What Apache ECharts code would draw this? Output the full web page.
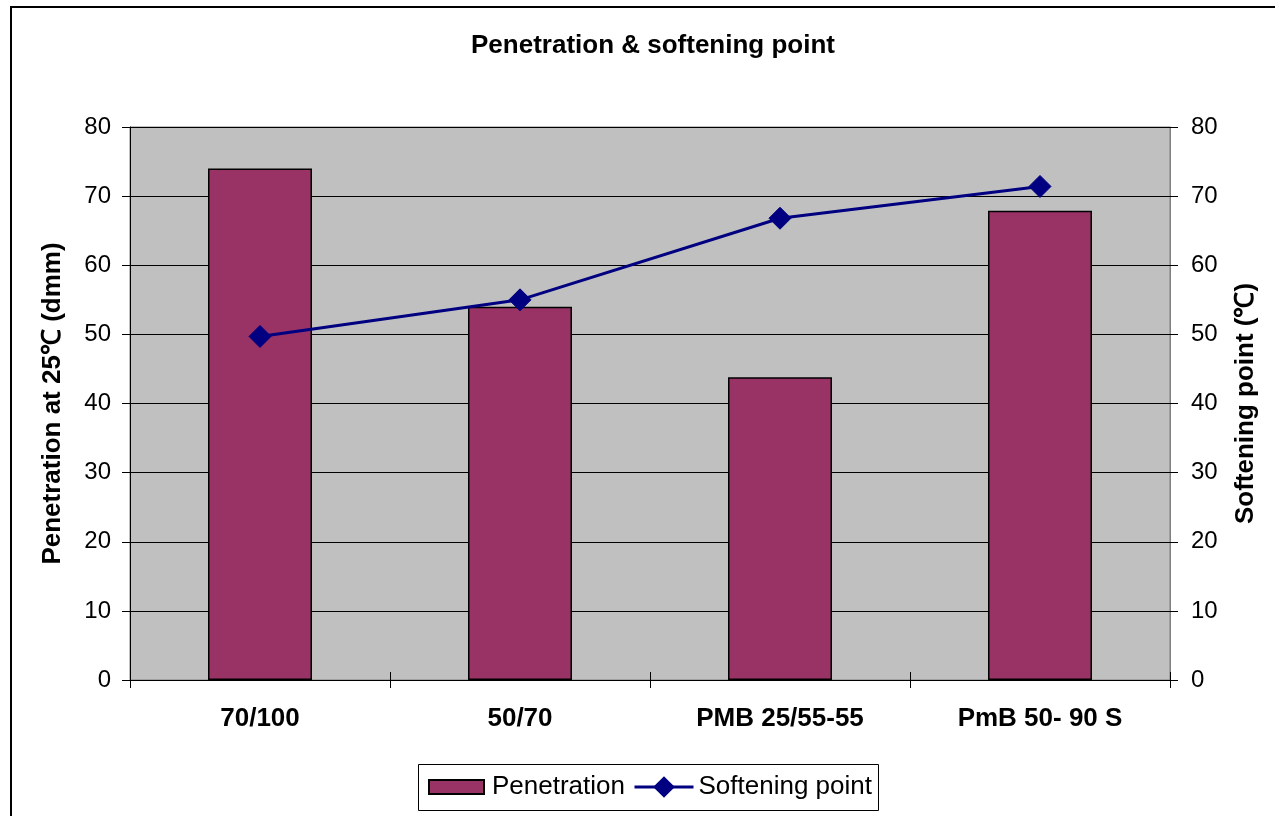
<!DOCTYPE html>
<html>
<head>
<meta charset="utf-8">
<script src="https://cdn.jsdelivr.net/npm/echarts@6/dist/echarts.min.js"></script>
<style>
html,body{margin:0;padding:0;background:#fff;}
#chart{width:1275px;height:816px;}
</style>
</head>
<body>
<div id="chart"></div>
<script>
const categories = ['70/100', '50/70', 'PMB 25/55-55', 'PmB 50- 90 S'];
const penetration = [74, 54, 43.8, 67.9];
const softeningPoint = [49.7, 55.0, 66.8, 71.4];
const yTicks = [0, 10, 20, 30, 40, 50, 60, 70, 80];

const FONT = '"Liberation Sans", Arial, sans-serif';
const chart = echarts.init(document.getElementById('chart'), null, {renderer: 'canvas'});

const option = {
  backgroundColor: '#ffffff',
  animation: false,
  textStyle: {fontFamily: FONT},
  title: {
    text: 'Penetration & softening point',
    left: 653, top: 33, textAlign: 'center', padding: 0,
    textStyle: {fontFamily: FONT, fontSize: 26, fontWeight: 'bold', color: '#000'}
  },
  graphic: [{
    type: 'rect', z: -10,
    shape: {x: 11, y: 7, width: 1400, height: 1000},
    style: {fill: 'none', stroke: '#000', lineWidth: 2}
  }, {
    type: 'rect', z: 0,
    shape: {x: 418.5, y: 764.5, width: 460, height: 46},
    style: {fill: '#fff', stroke: '#000', lineWidth: 1}
  }],
  legend: [{
    left: 428, top: 774, padding: 0,
    itemWidth: 55, itemHeight: 14,
    textStyle: {fontFamily: FONT, fontSize: 26, color: '#000', padding: [0, 0, 0, 3]},
    data: [{name: 'Penetration', icon: 'rect'}],
    z: 5
  }, {
    left: 633, top: 774, padding: 0,
    itemWidth: 59, itemHeight: 27,
    lineStyle: {width: 3, color: '#000080'},
    textStyle: {fontFamily: FONT, fontSize: 26, color: '#000', padding: [0, 0, 0, 0]},
    data: [{name: 'Softening point'}],
    z: 5
  }],
  grid: {left: 130, right: 105, top: 127, bottom: 136, show: true, backgroundColor: '#c0c0c0', borderColor: '#808080', borderWidth: 1},
  xAxis: [{
    type: 'category', data: categories, position: 'bottom',
    axisLine: {show: true, lineStyle: {color: '#000', width: 1}},
    axisTick: {show: true, alignWithLabel: false, length: 8, lineStyle: {color: '#000'}},
    axisLabel: {fontFamily: FONT, fontSize: 26, fontWeight: 'bold', color: '#000', margin: 26},
    splitLine: {show: false}
  }, {
    type: 'category', data: categories, position: 'bottom',
    axisLine: {show: false},
    axisTick: {show: true, inside: true, length: 8, lineStyle: {color: '#000'}},
    axisLabel: {show: false},
    splitLine: {show: false}
  }],
  yAxis: [{
    type: 'value', min: yTicks[0], max: yTicks[yTicks.length - 1], interval: 10,
    position: 'left',
    name: 'Penetration at 25℃ (dmm)', nameLocation: 'middle', nameGap: 64, nameRotate: 90,
    nameTextStyle: {fontFamily: FONT, fontSize: 26, fontWeight: 'bold', color: '#000'},
    axisLine: {show: true, lineStyle: {color: '#000', width: 1}},
    axisTick: {show: true, length: 8, lineStyle: {color: '#000'}},
    axisLabel: {fontFamily: FONT, fontSize: 24, color: '#000', margin: 19},
    splitLine: {show: true, lineStyle: {color: '#000', width: 1}}
  }, {
    type: 'value', min: yTicks[0], max: yTicks[yTicks.length - 1], interval: 10,
    position: 'right',
    name: 'Softening point (℃)', nameLocation: 'middle', nameGap: 63, nameRotate: 90,
    nameTextStyle: {fontFamily: FONT, fontSize: 26, fontWeight: 'bold', color: '#000'},
    axisLine: {show: true, lineStyle: {color: '#808080', width: 1}},
    axisTick: {show: true, length: 8, lineStyle: {color: '#000'}},
    axisLabel: {fontFamily: FONT, fontSize: 24, color: '#000', margin: 21},
    splitLine: {show: false}
  }],
  series: [{
    name: 'Penetration', type: 'bar', xAxisIndex: 0, yAxisIndex: 0,
    data: penetration, barWidth: '40%',
    itemStyle: {color: '#993366', borderColor: '#000', borderWidth: 1.5}
  }, {
    name: 'Softening point', type: 'line', xAxisIndex: 0, yAxisIndex: 1,
    data: softeningPoint,
    symbol: 'diamond', symbolSize: 22,
    lineStyle: {color: '#000080', width: 3},
    itemStyle: {color: '#000080', borderColor: '#000080'},
    z: 5
  }]
};
chart.setOption(option);
</script>
</body>
</html>
